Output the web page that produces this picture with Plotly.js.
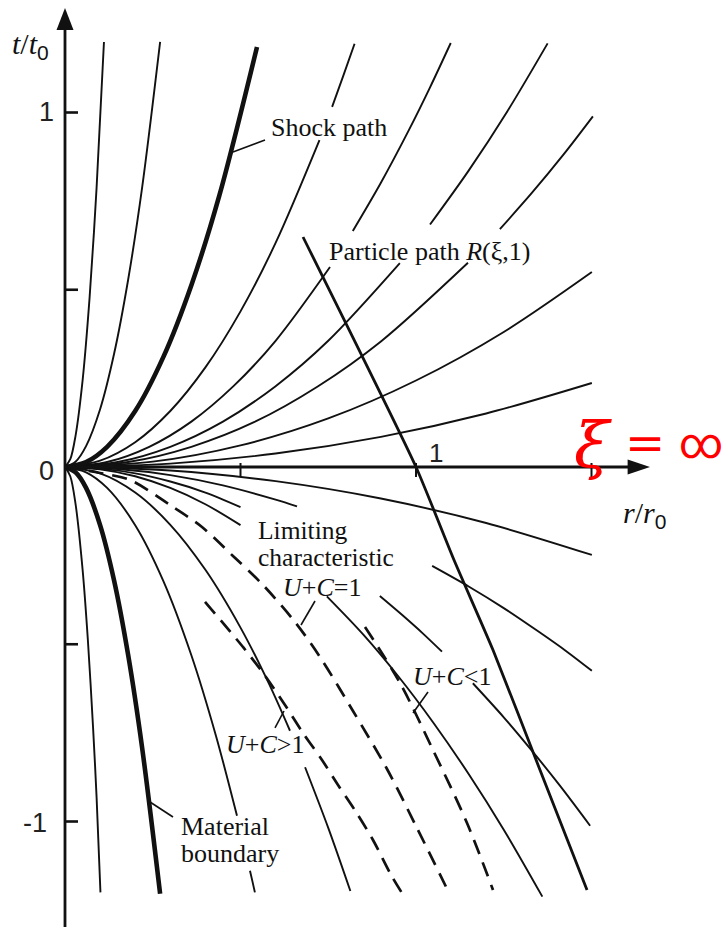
<!DOCTYPE html>
<html>
<head>
<meta charset="utf-8">
<script src="https://cdn.plot.ly/plotly-3.0.1.min.js"></script>
<style>
  html, body { margin: 0; padding: 0; background: #fff; }
  #chart { width: 725px; height: 927px; }
</style>
</head>
<body>
<div id="chart"></div>
<script>
// Similarity lines in the (r/r0, t/t0) plane: curves of constant xi fanning
// out of the origin, the limiting characteristics (dashed) and one particle path.
// Null splits a curve where a label sits on it.

// ---- t > 0 (above the r axis) ----
const u1R = [0, 0.015, 0.03, 0.05, 0.07, 0.09, 0.111];
const u1T = [0, 0.022, 0.088, 0.243, 0.477, 0.788, 1.199];
const u2R = [0, 0.03, 0.06, 0.1, 0.14, 0.18, 0.22, 0.271];
const u2T = [0, 0.015, 0.059, 0.163, 0.320, 0.529, 0.790, 1.199];
const shockR = [0, 0.06, 0.12, 0.2, 0.28, 0.36, 0.44, 0.547];
const shockT = [0, 0.014, 0.057, 0.158, 0.310, 0.513, 0.767, 1.185];
const u4R = [0, 0.1, 0.2, 0.3, 0.4, 0.5, 0.6, 0.725, null, 0.761, 0.793, 0.825];
const u4T = [0, 0.018, 0.070, 0.158, 0.281, 0.439, 0.632, 0.922, null, 1.016, 1.104, 1.194];
const u5R = [0, 0.12, 0.24, 0.36, 0.48, 0.6, 0.755, null, 0.82, 0.9, 0.98, 1.04, 1.099];
const u5T = [0, 0.014, 0.057, 0.128, 0.228, 0.356, 0.564, null, 0.666, 0.802, 0.951, 1.071, 1.196];
const u6R = [0, 0.15, 0.3, 0.45, 0.6, 0.75, 0.954, null, 1.04, 1.15, 1.26, 1.375];
const u6T = [0, 0.014, 0.057, 0.128, 0.228, 0.356, 0.575, null, 0.684, 0.836, 1.003, 1.195];
const u7R = [0, 0.18, 0.36, 0.54, 0.72, 0.9, 1.148, null, 1.239, 1.33, 1.42, 1.504];
const u7T = [0, 0.014, 0.057, 0.127, 0.227, 0.354, 0.576, null, 0.671, 0.773, 0.881, 0.989];
const u8R = [0, 0.25, 0.5, 0.75, 1.0, 1.25, 1.501];
const u8T = [0, 0.015, 0.061, 0.137, 0.244, 0.381, 0.550];
const u9R = [0, 0.3, 0.6, 0.9, 1.2, 1.501];
const u9T = [0, 0.0095, 0.038, 0.085, 0.151, 0.237];

// ---- t < 0 (below the r axis) ----
const l1R = [0, 0.015, 0.03, 0.05, 0.065, 0.08, 0.09, 0.101];
const l1T = [0, -0.026, -0.104, -0.288, -0.486, -0.736, -0.932, -1.2];
const boundaryR = [0, 0.03, 0.06, 0.1, 0.14, 0.18, 0.22, 0.271];
const boundaryT = [0, -0.015, -0.059, -0.164, -0.321, -0.531, -0.794, -1.204];
const l3R = [0, 0.06, 0.12, 0.2, 0.28, 0.36, 0.43, 0.49, null, 0.527, 0.534, 0.541];
const l3T = [0, -0.015, -0.059, -0.164, -0.321, -0.531, -0.758, -0.984, null, -1.139, -1.169, -1.2];
const l4R = [0, 0.1, 0.2, 0.3, 0.4, 0.5, 0.58, 0.641, null, 0.684, 0.75, 0.813];
const l4T = [0, -0.018, -0.072, -0.163, -0.290, -0.453, -0.609, -0.744, null, -0.847, -1.018, -1.196];
const l5R = [0, 0.1, 0.2, 0.3, 0.4, 0.5, null, 0.746, 0.85, 0.95, 1.05, 1.15, 1.25, 1.36];
const l5T = [0, -0.0066, -0.026, -0.059, -0.105, -0.164, null, -0.365, -0.473, -0.591, -0.722, -0.866, -1.023, -1.212];
const l6R = [0, 0.1, 0.2, 0.3, 0.4, 0.5, null, 0.897, 0.96, 1.02, 1.074, null, 1.162, 1.25, 1.33, 1.41, 1.496];
const l6T = [0, -0.0045, -0.018, -0.041, -0.072, -0.113, null, -0.364, -0.417, -0.470, -0.521, null, -0.610, -0.706, -0.800, -0.899, -1.012];
const l7R = [0, 0.15, 0.3, 0.45, 0.6, 0.661, null, 1.046, 1.15, 1.25, 1.35, 1.43, 1.501];
const l7T = [0, -0.0057, -0.023, -0.052, -0.092, -0.111, null, -0.279, -0.337, -0.398, -0.465, -0.521, -0.575];
const l8R = [0, 0.3, 0.6, 0.9, 1.2, 1.501];
const l8T = [0, -0.0099, -0.040, -0.089, -0.158, -0.248];

// ---- dashed characteristics ----
const limitR = [0, 0.0997, 0.1852, 0.2991, 0.3903, 0.4786, 0.5613, 0.6553, 0.7265, 0.8205, 0.9174, 1.0028, 1.0969];
const limitT = [0, -0.0169, -0.0367, -0.1072, -0.1693, -0.2511, -0.3300, -0.4372, -0.5360, -0.6883, -0.8519, -1.0183, -1.2073];
const aboveR = [0.3989, 0.5071, 0.5641, 0.6268, 0.6781, 0.7322, 0.7778, 0.8291, 0.8775, 0.929, 0.960];
const aboveT = [-0.3808, -0.5078, -0.5811, -0.6714, -0.7504, -0.8265, -0.8970, -0.9732, -1.0522, -1.1509, -1.2017];
const belowR = [0.8547, 0.9544, 1.0484, 1.1453, 1.2194];
const belowT = [-0.4513, -0.6093, -0.7983, -1.0042, -1.1932];

// ---- particle path R(xi, 1) ----
const particleR = [0.6781, 1.0, 1.1083, 1.2194, 1.3533, 1.4872];
const particleT = [0.6488, 0, -0.2623, -0.5162, -0.8547, -1.1932];

// ---- label leader lines ----
const leaderShockR = [0.4786, 0.5698], leaderShockT = [0.8886, 0.9224];
const leaderBoundR = [0.2422, 0.3077], leaderBoundT = [-0.945, -0.9873];
const leaderEqR = [0.7123, 0.6724], leaderEqT = [-0.378, -0.4457];
const leaderGtR = [0.5983, 0.6239], leaderGtT = [-0.7362, -0.6883];
const leaderLtR = [1.0342, 0.9915], leaderLtT = [-0.6347, -0.694];

// ---- axis ticks and tick labels ----
const tTickVals = [1, 0.5, -0.5, -1];
const rTickVals = [0.5, 1, 1.5];
const tLabelText = ['1', '0', '-1'];
const tLabelPos = [[-0.0285, 1.0014], [-0.0285, -0.0113], [-0.0484, -1.004]];
const rLabelText = ['1'];
const rLabelPos = [[1.0342, 0.0409]];

const INK = '#111';
const traces = [];
function addCurve(r, t, width, dash, smooth) {
  traces.push({
    type: 'scatter', mode: 'lines', x: r, y: t,
    connectgaps: false, hoverinfo: 'skip',
    line: { color: INK, width: width, dash: dash || 'solid',
            shape: smooth === 0 ? 'linear' : 'spline', smoothing: smooth || 0.9 }
  });
}

[[u1R, u1T], [u2R, u2T], [u4R, u4T], [u5R, u5T], [u6R, u6T], [u7R, u7T], [u8R, u8T], [u9R, u9T],
 [l1R, l1T], [l3R, l3T], [l4R, l4T], [l5R, l5T], [l6R, l6T], [l7R, l7T], [l8R, l8T]]
  .forEach(c => addCurve(c[0], c[1], 1.9));
addCurve(shockR, shockT, 4.6);
addCurve(boundaryR, boundaryT, 4.6);
const dashPattern = '15px,9px';
addCurve(limitR, limitT, 2.7, dashPattern);
addCurve(aboveR, aboveT, 2.7, dashPattern);
addCurve(belowR, belowT, 2.7, dashPattern);
addCurve(particleR, particleT, 2.8, 'solid', 0.5);
[[leaderShockR, leaderShockT], [leaderBoundR, leaderBoundT], [leaderEqR, leaderEqT],
 [leaderGtR, leaderGtT], [leaderLtR, leaderLtT]].forEach(c => addCurve(c[0], c[1], 1.6, 'solid', 0));

// axes drawn in data units: 1 unit of r = 351 px, 1 unit of t = 354.5 px
const PX_R = 1 / 351, PX_T = 1 / 354.5;
const yMin = -460 * PX_T, yMax = 467 * PX_T;
const xMin = -65 * PX_R, xMax = 660 * PX_R;
const shapes = [];
const axisLine = { color: INK, width: 2.8 };
// vertical t axis with arrow head
shapes.push({ type: 'line', xref: 'x', yref: 'y', x0: 0, x1: 0, y0: yMin, y1: 1.235, line: axisLine });
shapes.push({ type: 'path', xref: 'x', yref: 'y', fillcolor: INK, line: { width: 0 },
  path: `M ${-8.5 * PX_R},1.2327 L ${8.5 * PX_R},1.2327 L 0,1.2948 Z` });
// horizontal r axis with arrow head
shapes.push({ type: 'line', xref: 'x', yref: 'y', x0: 0, x1: 1.606, y0: 0, y1: 0, line: axisLine });
shapes.push({ type: 'path', xref: 'x', yref: 'y', fillcolor: INK, line: { width: 0 },
  path: `M 1.603,${-7.5 * PX_T} L 1.603,${7.5 * PX_T} L 1.6667,0 Z` });
tTickVals.forEach(v => shapes.push({ type: 'line', xref: 'x', yref: 'y',
  x0: 0, x1: 13 * PX_R, y0: v, y1: v, line: { color: INK, width: 2.6 } }));
rTickVals.forEach(v => shapes.push({ type: 'line', xref: 'x', yref: 'y',
  x0: v, x1: v, y0: 4 * PX_T, y1: -10 * PX_T, line: { color: INK, width: 2 } }));

const serif = 'Liberation Serif, Times New Roman, serif';
const sans = 'Liberation Sans, Arial, sans-serif';
const RED = '#ff0000';
function label(x, y, text, opts) {
  return Object.assign({ x: x, y: y, xref: 'x', yref: 'y', text: text, showarrow: false,
    xanchor: 'left', yanchor: 'middle', borderpad: 0,
    font: { family: serif, size: 26, color: INK } }, opts || {});
}
const annotations = [
  label(0.584, 0.9563, 'Shock path'),
  label(0.749, 0.609, 'Particle path <i>R</i>(ξ,1)'),
  label(0.547, -0.1805, 'Limiting', { font: { family: serif, size: 25.5, color: INK } }),
  label(0.547, -0.2565, 'characteristic', { font: { family: serif, size: 25.5, color: INK } }),
  label(0.618, -0.3413, '<i>U</i>+<i>C</i>=1'),
  label(0.9886, -0.591, '<i>U</i>+<i>C</i>&lt;1'),
  label(0.4558, -0.784, '<i>U</i>+<i>C</i>&gt;1'),
  label(0.3276, -1.0155, 'Material'),
  label(0.3276, -1.0903, 'boundary'),
  label(-0.153, 1.19, '<i>t</i>/<i>t</i><sub><span style="font-family:Liberation Sans">0</span></sub>', { font: { family: serif, size: 30, color: INK } }),
  label(1.587, -0.133, '<i>r</i>/<i>r</i><sub><span style="font-family:Liberation Sans">0</span></sub>', { font: { family: serif, size: 30, color: INK } }),
  // the t = 0 axis is the line xi = infinity
  label(1.4473, 0.062, '<i>ξ</i>', { font: { family: 'DejaVu Serif', size: 64, color: RED } }),
  label(1.6524, 0.0677, '=', { xanchor: 'center', font: { family: 'DejaVu Serif', size: 48, color: RED } }),
  label(1.7464, 0.069, '∞', { font: { family: 'Roboto', size: 43, color: RED } })
];
tLabelText.forEach((s, i) => annotations.push(label(tLabelPos[i][0], tLabelPos[i][1], s,
  { xanchor: 'right', font: { family: sans, size: 27, color: '#222' } })));
rLabelText.forEach((s, i) => annotations.push(label(rLabelPos[i][0], rLabelPos[i][1], s,
  { font: { family: sans, size: 26, color: '#222' } })));

const layout = {
  width: 725, height: 927, autosize: false,
  margin: { l: 0, r: 0, t: 0, b: 0, pad: 0 },
  paper_bgcolor: '#fff', plot_bgcolor: '#fff',
  showlegend: false, hovermode: false,
  xaxis: { range: [xMin, xMax], visible: false, fixedrange: true },
  yaxis: { range: [yMin, yMax], visible: false, fixedrange: true },
  shapes: shapes,
  annotations: annotations
};

Plotly.newPlot('chart', traces, layout, { staticPlot: true, displayModeBar: false });
</script>
</body>
</html>
